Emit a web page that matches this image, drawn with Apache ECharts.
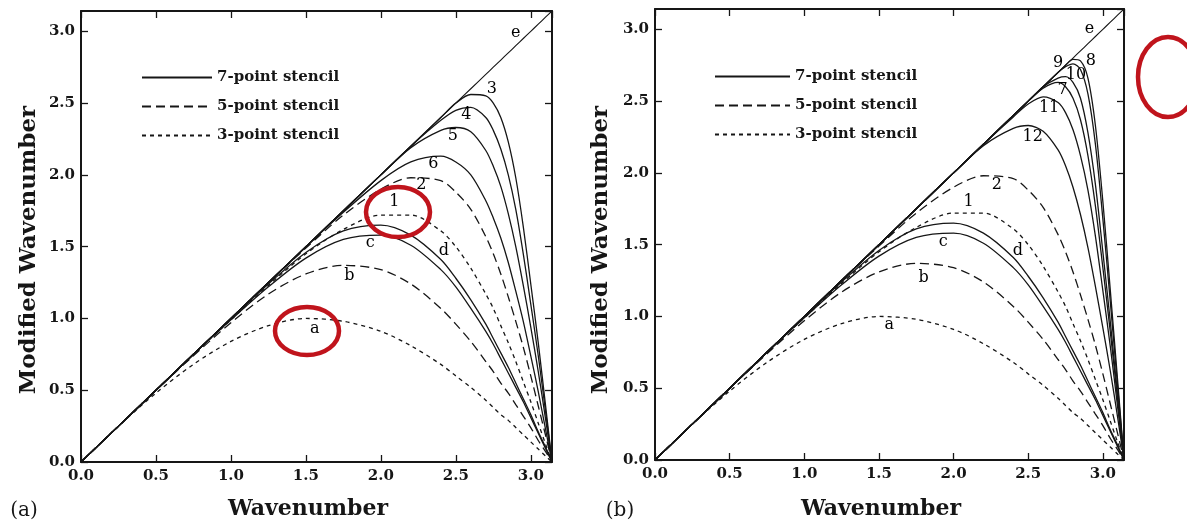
<!DOCTYPE html>
<html>
<head>
<meta charset="utf-8">
<title>Modified wavenumber of finite-difference stencils</title>
<script src="https://cdn.jsdelivr.net/npm/echarts@6/dist/echarts.min.js"></script>
<style>
  html, body { margin: 0; padding: 0; background: #ffffff; }
  #chart { width: 1187px; height: 526px; }
</style>
</head>
<body>
<div id="chart"></div>
<script>
// Sampled wavenumbers (x) shared by every curve, 0 .. pi
const wavenumbers = [0, 0.25, 0.5, 0.75, 1.0, 1.25, 1.5, 1.75, 2.0, 2.2, 2.4, 2.5, 2.6, 2.7, 2.75, 2.8, 2.85, 2.9, 2.95, 3.0, 3.05, 3.1, 3.1416];

// Modified wavenumber of each scheme at those wavenumbers
const exactE   = [0, 0.25, 0.5, 0.75, 1.0, 1.25, 1.5, 1.75, 2.0, 2.2, 2.4, 2.5, 2.6, 2.7, 2.75, 2.8, 2.85, 2.9, 2.95, 3.0, 3.05, 3.1, 3.1416];
const curveA   = [0, 0.25, 0.48, 0.68, 0.84, 0.95, 1.00, 0.98, 0.91, 0.81, 0.68, 0.60, 0.52, 0.43, 0.38, 0.33, 0.29, 0.24, 0.19, 0.14, 0.09, 0.04, 0];
const curveB   = [0, 0.25, 0.50, 0.74, 0.97, 1.17, 1.31, 1.37, 1.34, 1.24, 1.07, 0.96, 0.84, 0.70, 0.63, 0.55, 0.48, 0.40, 0.32, 0.24, 0.15, 0.07, 0];
const curveC   = [0, 0.25, 0.50, 0.75, 0.99, 1.22, 1.42, 1.55, 1.58, 1.51, 1.34, 1.22, 1.07, 0.91, 0.82, 0.72, 0.62, 0.52, 0.42, 0.31, 0.20, 0.09, 0];
const curveD   = [0, 0.25, 0.50, 0.75, 1.00, 1.24, 1.46, 1.61, 1.65, 1.58, 1.41, 1.28, 1.13, 0.96, 0.86, 0.76, 0.66, 0.55, 0.44, 0.33, 0.21, 0.10, 0];
const curve1   = [0, 0.25, 0.50, 0.75, 0.99, 1.23, 1.45, 1.62, 1.72, 1.72, 1.61, 1.50, 1.35, 1.17, 1.07, 0.95, 0.83, 0.70, 0.56, 0.42, 0.27, 0.12, 0];
const curve2   = [0, 0.25, 0.50, 0.75, 1.00, 1.25, 1.49, 1.72, 1.90, 1.98, 1.96, 1.88, 1.76, 1.57, 1.45, 1.31, 1.15, 0.98, 0.80, 0.60, 0.39, 0.18, 0];
const curve3   = [0, 0.25, 0.50, 0.75, 1.00, 1.25, 1.50, 1.75, 2.00, 2.20, 2.40, 2.50, 2.56, 2.55, 2.50, 2.40, 2.23, 1.98, 1.64, 1.24, 0.83, 0.38, 0];
const curve4   = [0, 0.25, 0.50, 0.75, 1.00, 1.25, 1.50, 1.75, 2.00, 2.20, 2.38, 2.45, 2.47, 2.40, 2.31, 2.18, 2.00, 1.76, 1.45, 1.10, 0.74, 0.34, 0];
const curve5   = [0, 0.25, 0.50, 0.75, 1.00, 1.25, 1.50, 1.75, 2.00, 2.19, 2.31, 2.33, 2.30, 2.17, 2.06, 1.92, 1.73, 1.50, 1.23, 0.94, 0.63, 0.29, 0];
const curve6   = [0, 0.25, 0.50, 0.75, 1.00, 1.25, 1.50, 1.74, 1.96, 2.09, 2.13, 2.09, 2.00, 1.82, 1.70, 1.56, 1.39, 1.19, 0.98, 0.74, 0.49, 0.22, 0];
const curve7   = [0, 0.25, 0.50, 0.75, 1.00, 1.25, 1.50, 1.75, 2.00, 2.20, 2.40, 2.50, 2.59, 2.63, 2.60, 2.52, 2.37, 2.12, 1.77, 1.34, 0.89, 0.41, 0];
const curve8   = [0, 0.25, 0.50, 0.75, 1.00, 1.25, 1.50, 1.75, 2.00, 2.20, 2.40, 2.50, 2.60, 2.70, 2.75, 2.79, 2.78, 2.66, 2.33, 1.80, 1.18, 0.54, 0];
const curve9   = [0, 0.25, 0.50, 0.75, 1.00, 1.25, 1.50, 1.75, 2.00, 2.20, 2.40, 2.50, 2.60, 2.70, 2.74, 2.76, 2.72, 2.55, 2.20, 1.68, 1.10, 0.50, 0];
const curve10  = [0, 0.25, 0.50, 0.75, 1.00, 1.25, 1.50, 1.75, 2.00, 2.20, 2.40, 2.50, 2.60, 2.66, 2.67, 2.63, 2.52, 2.28, 1.92, 1.45, 0.96, 0.44, 0];
const curve11  = [0, 0.25, 0.50, 0.75, 1.00, 1.25, 1.50, 1.75, 2.00, 2.20, 2.39, 2.48, 2.53, 2.49, 2.42, 2.30, 2.12, 1.88, 1.56, 1.18, 0.79, 0.36, 0];
const curve12  = [0, 0.25, 0.50, 0.75, 1.00, 1.25, 1.50, 1.75, 2.00, 2.19, 2.31, 2.33, 2.29, 2.16, 2.05, 1.90, 1.71, 1.48, 1.21, 0.92, 0.62, 0.29, 0];

// Stencil families (legend entries)
const stencilNames = ['7-point stencil', '5-point stencil', '3-point stencil'];

// Axis tick labels
const tickLabels = ['0.0', '0.5', '1.0', '1.5', '2.0', '2.5', '3.0'];

// Curve tags and where they are written: [tag, wavenumber, modified wavenumber]
const tagsLeft = [
  ['e', 2.90, 2.99], ['3', 2.74, 2.60], ['4', 2.57, 2.42], ['5', 2.48, 2.27],
  ['6', 2.35, 2.08], ['2', 2.27, 1.93], ['1', 2.09, 1.81], ['c', 1.93, 1.53],
  ['d', 2.42, 1.47], ['b', 1.79, 1.30], ['a', 1.56, 0.93]
];
const tagsRight = [
  ['e', 2.91, 3.00], ['9', 2.70, 2.77], ['8', 2.92, 2.78], ['10', 2.82, 2.68],
  ['7', 2.73, 2.58], ['11', 2.64, 2.45], ['12', 2.53, 2.25], ['2', 2.29, 1.92],
  ['1', 2.10, 1.80], ['c', 1.93, 1.52], ['d', 2.43, 1.46], ['b', 1.80, 1.27],
  ['a', 1.57, 0.94]
];

const INK = '#161616';
const SERIF = '"DejaVu Serif", "Liberation Serif", serif';
const PI = 3.1416;

const styles = {
  '7-point stencil': { type: 'solid', width: 1.3 },
  '5-point stencil': { type: [9, 5], width: 1.3 },
  '3-point stencil': { type: [4, 4], width: 1.3 },
  'exact': { type: 'solid', width: 1.1 }
};

function pairs(ys) { return wavenumbers.map((x, i) => [x, ys[i]]); }

function curveSeries(ys, family, panel) {
  const st = styles[family];
  return {
    type: 'line', name: family, xAxisIndex: panel * 2, yAxisIndex: panel * 2,
    data: pairs(ys), symbol: 'none', showSymbol: false, smooth: 0.3,
    lineStyle: { color: INK, width: st.width, type: st.type },
    itemStyle: { color: INK }, silent: true, z: 3
  };
}

function tagSeries(tags, panel) {
  return {
    type: 'scatter', name: 'tags' + panel, xAxisIndex: panel * 2, yAxisIndex: panel * 2,
    symbolSize: 0, silent: true, z: 5,
    itemStyle: { opacity: 1, color: INK },
    data: tags.map(t => ({ name: t[0], value: [t[1], t[2]] })),
    label: {
      show: true, position: 'inside', formatter: p => p.name,
      color: '#000', fontFamily: SERIF, fontSize: 16, align: 'center', verticalAlign: 'middle'
    }
  };
}

const leftCurves = [
  [curveD, '7-point stencil'], [curve1, '3-point stencil'], [curve2, '5-point stencil'],
  [curve3, '7-point stencil'], [curve4, '7-point stencil'], [curve5, '7-point stencil'],
  [curve6, '7-point stencil'], [exactE, 'exact']
];
const rightCurves = [
  [exactE, 'exact'], [curveA, '3-point stencil'], [curveB, '5-point stencil'],
  [curveC, '7-point stencil'], [curveD, '7-point stencil'], [curve1, '3-point stencil'],
  [curve2, '5-point stencil'], [curve7, '7-point stencil'], [curve8, '7-point stencil'],
  [curve9, '7-point stencil'], [curve10, '7-point stencil'], [curve11, '7-point stencil'],
  [curve12, '7-point stencil']
];

const series = [];
// legend entries take their look from the first series of each family
series.push(curveSeries(curveC, '7-point stencil', 0));
series.push(curveSeries(curveB, '5-point stencil', 0));
series.push(curveSeries(curveA, '3-point stencil', 0));
leftCurves.forEach(c => series.push(curveSeries(c[0], c[1], 0)));
rightCurves.forEach(c => series.push(curveSeries(c[0], c[1], 1)));
series.push(tagSeries(tagsLeft, 0));
series.push(tagSeries(tagsRight, 1));

function tickText(v) {
  const k = Math.round(v * 2);
  return Math.abs(v * 2 - k) < 1e-6 && k < tickLabels.length ? tickLabels[k] : '';
}

function axisPair(kind, grid, showLabels, position) {
  return {
    type: 'value', gridIndex: grid, position: position, min: 0, max: PI, interval: 0.5,
    axisLine: { show: true, onZero: false, lineStyle: { color: INK, width: 2 } },
    axisTick: { show: true, inside: true, length: 7, lineStyle: { color: INK, width: 1.3 } },
    axisLabel: {
      show: showLabels, formatter: tickText, color: INK, fontFamily: SERIF, fontSize: 15,
      fontWeight: 'bold', margin: kind === 'x' ? 7 : 6, showMaxLabel: false
    },
    splitLine: { show: false }
  };
}

const legendCommon = {
  orient: 'vertical', selectedMode: false, itemHeight: 14, padding: 0,
  data: stencilNames,
  itemStyle: { opacity: 0, borderWidth: 0 },
  textStyle: { color: INK, fontFamily: SERIF, fontSize: 15, fontWeight: 'bold' }
};

const option = {
  animation: false,
  backgroundColor: '#ffffff',
  grid: [
    { left: 81, top: 11, width: 471, height: 451, show: false },
    { left: 655, top: 9, width: 469, height: 451, show: false }
  ],
  xAxis: [
    axisPair('x', 0, true, 'bottom'), axisPair('x', 0, false, 'top'),
    axisPair('x', 1, true, 'bottom'), axisPair('x', 1, false, 'top')
  ],
  yAxis: [
    axisPair('y', 0, true, 'left'), axisPair('y', 0, false, 'right'),
    axisPair('y', 1, true, 'left'), axisPair('y', 1, false, 'right')
  ],
  legend: [
    Object.assign({}, legendCommon, { left: 141, top: 70, itemWidth: 70, itemGap: 14 }),
    Object.assign({}, legendCommon, { left: 714, top: 69, itemWidth: 75, itemGap: 14 })
  ],
  series: series,
  graphic: [
    { type: 'text', x: 29, y: 250, rotation: Math.PI / 2, style: { text: 'Modified Wavenumber', font: 'bold 23px ' + SERIF, fill: INK, textAlign: 'center', textVerticalAlign: 'middle' } },
    { type: 'text', x: 601, y: 250, rotation: Math.PI / 2, style: { text: 'Modified Wavenumber', font: 'bold 23px ' + SERIF, fill: INK, textAlign: 'center', textVerticalAlign: 'middle' } },
    { type: 'text', x: 308, y: 509, style: { text: 'Wavenumber', font: 'bold 22px ' + SERIF, fill: INK, textAlign: 'center', textVerticalAlign: 'middle' } },
    { type: 'text', x: 881, y: 509, style: { text: 'Wavenumber', font: 'bold 22px ' + SERIF, fill: INK, textAlign: 'center', textVerticalAlign: 'middle' } },
    { type: 'text', x: 24, y: 511, style: { text: '(a)', font: '20px ' + SERIF, fill: INK, textAlign: 'center', textVerticalAlign: 'middle' } },
    { type: 'text', x: 620, y: 511, style: { text: '(b)', font: '20px ' + SERIF, fill: INK, textAlign: 'center', textVerticalAlign: 'middle' } },
    // red highlight rings
    { type: 'ellipse', shape: { cx: 398, cy: 212, rx: 32, ry: 25 }, style: { fill: 'none', stroke: '#c0141c', lineWidth: 4.5 }, z: 100 },
    { type: 'ellipse', shape: { cx: 307, cy: 331, rx: 32, ry: 24 }, style: { fill: 'none', stroke: '#c0141c', lineWidth: 4.5 }, z: 100 },
    { type: 'ellipse', shape: { cx: 1168, cy: 77, rx: 30, ry: 40 }, style: { fill: 'none', stroke: '#c0141c', lineWidth: 4.5 }, z: 100 }
  ]
};

const chart = echarts.init(document.getElementById('chart'), null, { renderer: 'canvas' });
chart.setOption(option);
</script>
</body>
</html>
